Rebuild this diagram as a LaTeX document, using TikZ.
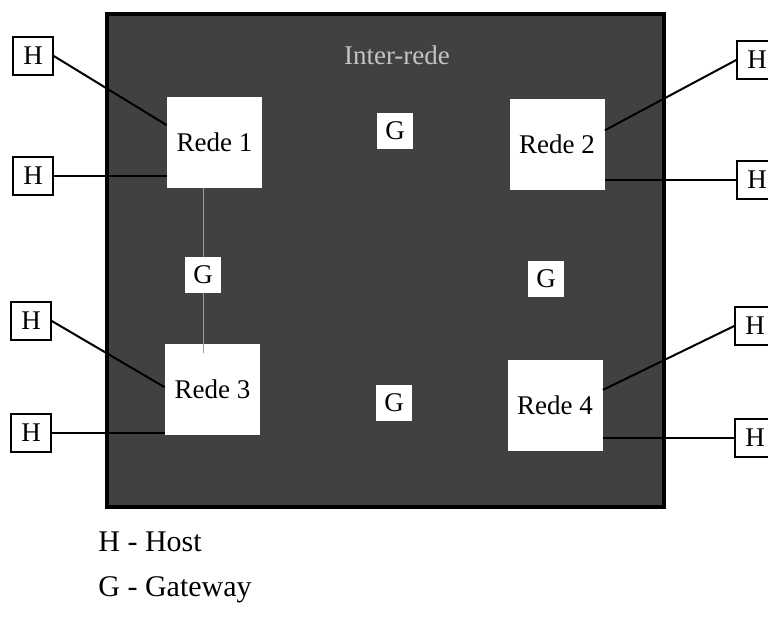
\documentclass[tikz,border=0pt]{standalone}
\usepackage{fontspec}
\setmainfont{Liberation Serif}
\usetikzlibrary{calc,positioning}
\definecolor{RedeDark}{HTML}{414141}
\definecolor{RedeTitle}{HTML}{C4C4C4}
\definecolor{RedeLink}{HTML}{9A9A9A}
\tikzset{
  interbox/.style={draw=black,line width=1.6pt,fill=RedeDark,inner sep=0pt},
  redebox/.style={fill=white,inner sep=0pt,minimum width=47.5pt,minimum height=45.5pt,
    font=\fontsize{13.5}{16}\selectfont},
  hostbox/.style={draw=black,line width=0.8pt,fill=white,inner sep=0pt,
    minimum width=20pt,minimum height=19pt,font=\fontsize{13.5}{16}\selectfont},
  gatebox/.style={fill=white,inner sep=0pt,minimum width=18pt,minimum height=18pt,
    font=\fontsize{13.5}{16}\selectfont},
  hostlink/.style={draw=black,line width=1pt},
  gatelink/.style={draw=RedeLink,line width=0.5pt},
  legend/.style={anchor=west,inner sep=0pt,font=\fontsize{15}{18}\selectfont}
}

\begin{document}
\begin{tikzpicture}[x=0.5pt,y=-0.5pt]
  \useasboundingbox (0,0) rectangle (768,618);

  \node[interbox,minimum width=278.5pt,minimum height=246.5pt] (inter) at (385.5,260.5) {};
  \node[text=RedeTitle,font=\fontsize{13.5}{16}\selectfont] (intertitle) at (397,55) {Inter-rede};

  \node[redebox] (rede1) at (214.5,142.5) {Rede 1};
  \node[redebox] (rede2) at (557,144) {Rede 2};
  \node[redebox] (rede3) at (212.5,389) {Rede 3};
  \node[redebox] (rede4) at (555,405.5) {Rede 4};

  \node[gatebox] (g12) at (395,131) {G};
  \node[gatebox] (g13) at (203,275) {G};
  \node[gatebox] (g24) at (546,279) {G};
  \node[gatebox] (g34) at (394,403) {G};

  \draw[gatelink] (rede1.south -| g13) -- (g13.north);
  \draw[gatelink] (g13.south) -- ++(0,60);

  \node[hostbox] (h1a) at (33,56) {H};
  \node[hostbox] (h1b) at (33,176) {H};
  \node[hostbox] (h2a) at (757,60) {H};
  \node[hostbox] (h2b) at (757,180) {H};
  \node[hostbox] (h3a) at (31,321) {H};
  \node[hostbox] (h3b) at (31,433) {H};
  \node[hostbox] (h4a) at (755,326) {H};
  \node[hostbox] (h4b) at (755,438) {H};

  \draw[hostlink] (h1a.east) -- ($(rede1.north west)!0.31!(rede1.south west)$);
  \draw[hostlink] (h1b.east) -- (h1b -| rede1.west);
  \draw[hostlink] (h2a.west) -- ($(rede2.north east)!0.35!(rede2.south east)$);
  \draw[hostlink] (h2b.west) -- (h2b -| rede2.east);
  \draw[hostlink] (h3a.east) -- ($(rede3.north west)!0.48!(rede3.south west)$);
  \draw[hostlink] (h3b.east) -- (h3b -| rede3.west);
  \draw[hostlink] (h4a.west) -- ($(rede4.north east)!0.33!(rede4.south east)$);
  \draw[hostlink] (h4b.west) -- (h4b -| rede4.east);

  \node[legend] (keyhost) at (98,542) {H - Host};
  \node[legend] (keygate) at (98,590) {G - Gateway};
\end{tikzpicture}
\end{document}
